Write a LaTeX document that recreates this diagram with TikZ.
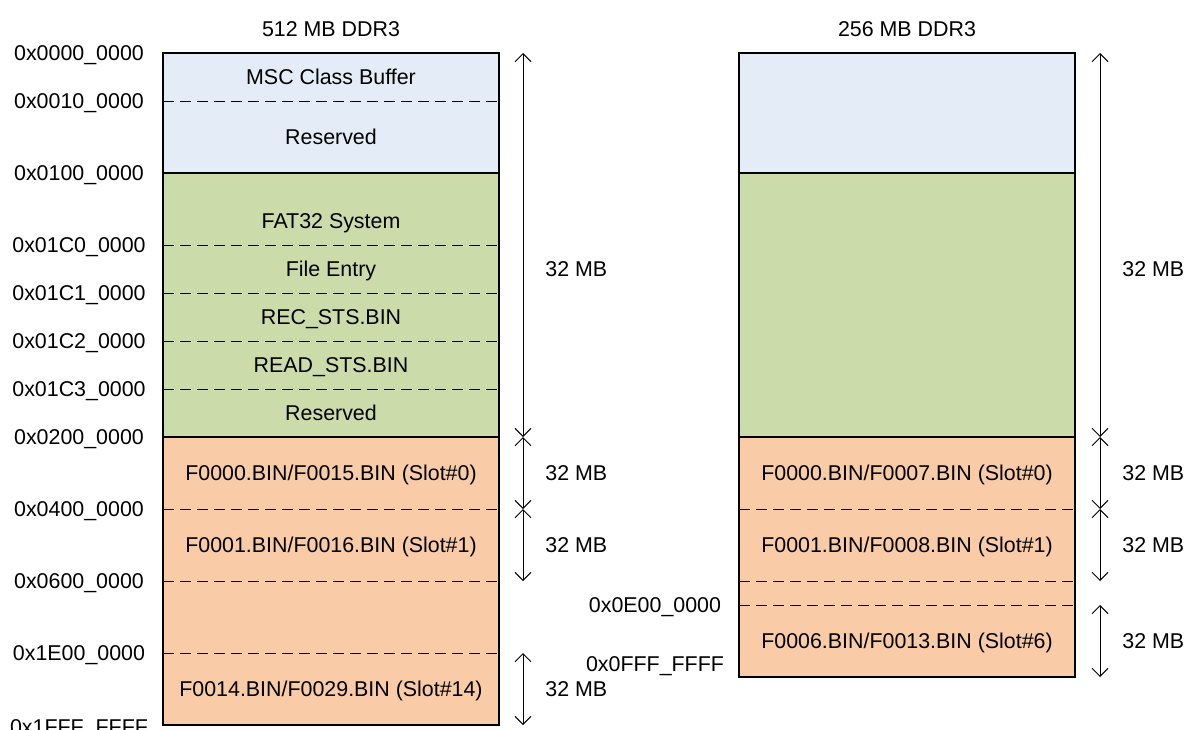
\documentclass[tikz,border=0pt]{standalone}
\usepackage{fontspec}
\setmainfont{Liberation Sans}
\usetikzlibrary{arrows.meta}
\definecolor{memblue}{HTML}{E4ECF7}
\definecolor{memgreen}{HTML}{CBDBAA}
\definecolor{memorange}{HTML}{F9CBA6}
\begin{document}
\begin{tikzpicture}[x=0.5pt,y=-0.5pt,
  lbl/.style={font=\fontsize{10.7}{12}\selectfont, inner sep=0pt, text height=7.7pt, text depth=0pt},
  addr/.style={lbl, anchor=center},
  sizelbl/.style={lbl, anchor=west},
  border/.style={draw=black, line width=0.75pt},
  divider/.style={dash pattern=on 5.5pt off 3pt, line width=0.5pt},
  dim/.style={line width=0.5pt, {Straight Barb[length=4pt,width=8pt]}-{Straight Barb[length=4pt,width=8pt]}},
]
\useasboundingbox (0,0) rectangle (1184,729);

% ---------- left memory (512 MB) ----------
\fill[memblue] (163,53) rectangle (499,173);
\fill[memgreen] (163,173) rectangle (499,437);
\fill[memorange] (163,437) rectangle (499,725);
\foreach \yy in {101,245,293,341,389,509,581,653}
  \draw[divider] (163,\yy) -- (497,\yy);
\draw[border] (163,173) -- (499,173);
\draw[border] (163,437) -- (499,437);
\draw[border] (163,53) rectangle (499,725);

\node[lbl] (t1) at (331,29) {512 MB DDR3};
\node[lbl] (l1) at (331,77) {MSC Class Buffer};
\node[lbl] (l2) at (331,137) {Reserved};
\node[lbl] (l3) at (331,221) {FAT32 System};
\node[lbl] (l4) at (331,269) {File Entry};
\node[lbl] (l5) at (331,317) {REC\_STS.BIN};
\node[lbl] (l6) at (331,365) {READ\_STS.BIN};
\node[lbl] (l7) at (331,413) {Reserved};
\node[lbl] (l8) at (331,473) {F0000.BIN/F0015.BIN (Slot\#0)};
\node[lbl] (l9) at (331,545) {F0001.BIN/F0016.BIN (Slot\#1)};
\node[lbl] (l10) at (331,689) {F0014.BIN/F0029.BIN (Slot\#14)};

\node[addr] (a1) at (79,53) {0x0000\_0000};
\node[addr] (a2) at (79,101) {0x0010\_0000};
\node[addr] (a3) at (79,173) {0x0100\_0000};
\node[addr] (a4) at (79,245) {0x01C0\_0000};
\node[addr] (a5) at (79,293) {0x01C1\_0000};
\node[addr] (a6) at (79,341) {0x01C2\_0000};
\node[addr] (a7) at (79,389) {0x01C3\_0000};
\node[addr] (a8) at (79,437) {0x0200\_0000};
\node[addr] (a9) at (79,509) {0x0400\_0000};
\node[addr] (a10) at (79,581) {0x0600\_0000};
\node[addr] (a11) at (79,653) {0x1E00\_0000};
\node[addr] (a12) at (79,727) {0x1FFF\_FFFF};

\coordinate (p1) at (523,53);
\coordinate (p2) at (523,437);
\coordinate (p3) at (523,509);
\coordinate (p4) at (523,581);
\coordinate (p5) at (523,653);
\coordinate (p6) at (523,725);
\draw[dim] (p1) -- (p2);
\draw[dim] (p2) -- (p3);
\draw[dim] (p3) -- (p4);
\draw[dim] (p5) -- (p6);
\node[sizelbl] (s1) at (545,269) {32 MB};
\node[sizelbl] (s2) at (545,473) {32 MB};
\node[sizelbl] (s3) at (545,545) {32 MB};
\node[sizelbl] (s4) at (545,689) {32 MB};

% ---------- right memory (256 MB) ----------
\fill[memblue] (739,53) rectangle (1075,173);
\fill[memgreen] (739,173) rectangle (1075,437);
\fill[memorange] (739,437) rectangle (1075,677);
\foreach \yy in {509,581,605}
  \draw[divider] (739,\yy) -- (1073,\yy);
\draw[border] (739,173) -- (1075,173);
\draw[border] (739,437) -- (1075,437);
\draw[border] (739,53) rectangle (1075,677);

\node[lbl] (t2) at (907,29) {256 MB DDR3};
\node[lbl] (r1) at (907,473) {F0000.BIN/F0007.BIN (Slot\#0)};
\node[lbl] (r2) at (907,545) {F0001.BIN/F0008.BIN (Slot\#1)};
\node[lbl] (r3) at (907,641) {F0006.BIN/F0013.BIN (Slot\#6)};

\node[addr] (b1) at (655,605) {0x0E00\_0000};
\node[addr] (b2) at (655,664) {0x0FFF\_FFFF};

\coordinate (q1) at (1100,53);
\coordinate (q2) at (1100,437);
\coordinate (q3) at (1100,509);
\coordinate (q4) at (1100,581);
\coordinate (q5) at (1100,605);
\coordinate (q6) at (1100,677);
\draw[dim] (q1) -- (q2);
\draw[dim] (q2) -- (q3);
\draw[dim] (q3) -- (q4);
\draw[dim] (q5) -- (q6);
\node[sizelbl] (u1) at (1122,269) {32 MB};
\node[sizelbl] (u2) at (1122,473) {32 MB};
\node[sizelbl] (u3) at (1122,545) {32 MB};
\node[sizelbl] (u4) at (1122,641) {32 MB};
\end{tikzpicture}
\end{document}
